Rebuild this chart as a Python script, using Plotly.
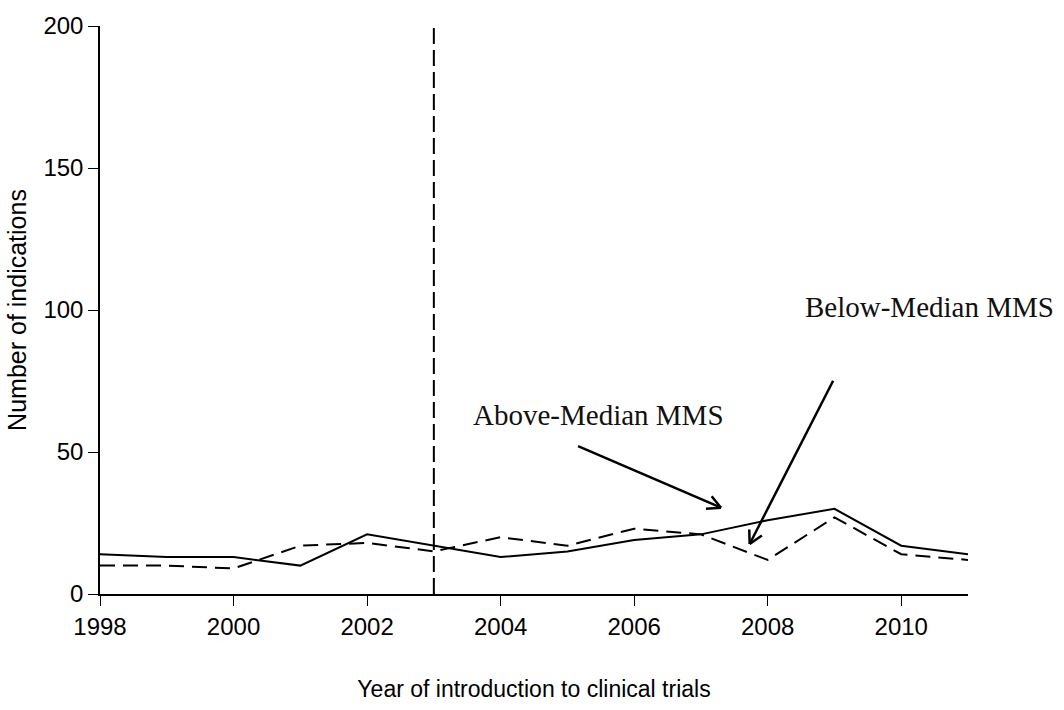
import plotly.graph_objects as go
import math

years = [1998, 1999, 2000, 2001, 2002, 2003, 2004, 2005, 2006, 2007, 2008, 2009, 2010, 2011]
below_median = [14, 13, 13, 10, 21, 17, 13, 15, 19, 21, 26, 30, 17, 14]   # solid
above_median = [10, 10, 9, 17, 18, 15, 20, 17, 23, 21, 12, 27, 14, 12]    # dashed
x_ticks = [1998, 2000, 2002, 2004, 2006, 2008, 2010]
y_ticks = [0, 50, 100, 150, 200]
policy_year = 2003

W, H = 1064, 710
M = dict(l=100, r=96, t=15, b=112)
x_range = [1998, 2011]
y_range = [0, 200]
pw = W - M["l"] - M["r"]
ph = H - M["t"] - M["b"]
sx = pw / (x_range[1] - x_range[0])
sy = ph / (y_range[1] - y_range[0])

fig = go.Figure()
fig.add_trace(go.Scatter(x=years, y=below_median, mode="lines",
                         line=dict(color="black", width=2), showlegend=False))
fig.add_trace(go.Scatter(x=years, y=above_median, mode="lines",
                         line=dict(color="black", width=2, dash="15px,8px"), showlegend=False))

fig.add_shape(type="line", x0=policy_year, x1=policy_year, y0=0, y1=200,
              xref="x", yref="y", line=dict(color="black", width=2, dash="16px,6px"))

serif = "Liberation Serif"
arrows = [
    # (tail_x, tail_y, head_x, head_y)
    (2005.16, 52.1, 2007.30, 30.4),
    (2008.98, 75.1, 2007.73, 17.6),
]
head_len = 15
head_ang = math.radians(28)
for tx, ty, hx, hy in arrows:
    fig.add_shape(type="line", x0=tx, y0=ty, x1=hx, y1=hy, xref="x", yref="y",
                  line=dict(color="black", width=2.5))
    dx = (hx - tx) * sx
    dy = (hy - ty) * sy
    ang = math.atan2(dy, dx)
    for s in (1, -1):
        a = ang + math.pi + s * head_ang
        ex = hx + head_len * math.cos(a) / sx
        ey = hy + head_len * math.sin(a) / sy
        fig.add_shape(type="line", x0=hx, y0=hy, x1=ex, y1=ey, xref="x", yref="y",
                      line=dict(color="black", width=2.5))

fig.add_annotation(x=2005.47, y=63.0, xref="x", yref="y", text="Above-Median MMS",
                   showarrow=False, font=dict(family=serif, size=29, color="#111"))
fig.add_annotation(x=2010.42, y=101.0, xref="x", yref="y", text="Below-Median MMS",
                   showarrow=False, font=dict(family=serif, size=29, color="#111"))

sans = "Liberation Sans"
fig.update_layout(
    width=W, height=H, margin=M,
    paper_bgcolor="white", plot_bgcolor="white",
    font=dict(family=sans, color="black"),
    xaxis=dict(range=x_range, tickvals=x_ticks, showgrid=False, zeroline=False,
               showline=True, linecolor="black", linewidth=1.5,
               ticks="outside", ticklen=10, tickwidth=1, tickcolor="black",
               tickfont=dict(size=24),
               title=dict(text="Year of introduction to clinical trials",
                          font=dict(size=23), standoff=42)),
    yaxis=dict(range=y_range, tickvals=y_ticks, showgrid=False, zeroline=False,
               showline=True, linecolor="black", linewidth=1.5,
               ticks="outside", ticklen=10, tickwidth=1, tickcolor="black",
               tickfont=dict(size=24),
               title=dict(text="Number of indications", font=dict(size=25), standoff=10)),
)

fig.write_html("out.html")
